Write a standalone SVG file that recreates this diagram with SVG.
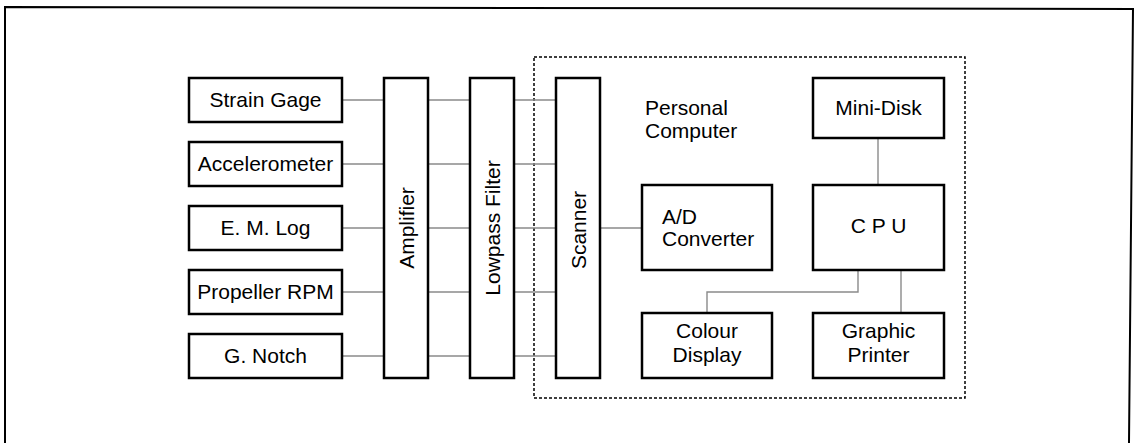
<svg xmlns="http://www.w3.org/2000/svg" width="1140" height="443" viewBox="0 0 1140 443">
<style>
.box{fill:#fff;stroke:#000;stroke-width:2.5}
.t{font-family:"Liberation Sans",Arial,sans-serif;font-size:21px;fill:#000}
.c{text-anchor:middle}
.v{text-anchor:middle;dominant-baseline:central}
.ln{fill:none;stroke:#8a8a8a;stroke-width:1.4}
.frame{fill:none;stroke:#000;stroke-width:2}
.pc{fill:none;stroke:#000;stroke-width:1.5;stroke-dasharray:3 2}
</style>
<rect width="1140" height="443" fill="#fff"/>
<path class="frame" d="M5,443 L5,7 L1133,9 L1129,443"/>
<g id="personal-computer">
<rect class="pc" x="534" y="57" width="431" height="341"/>
<text class="t" x="645" y="115">Personal</text>
<text class="t" x="645" y="138">Computer</text>
</g>
<g id="connectors">
<path class="ln" d="M342,100H384M428,100H470M514,100H556"/>
<path class="ln" d="M342,164H384M428,164H470M514,164H556"/>
<path class="ln" d="M342,228H384M428,228H470M514,228H556"/>
<path class="ln" d="M342,292H384M428,292H470M514,292H556"/>
<path class="ln" d="M342,356H384M428,356H470M514,356H556"/>
<path class="ln" d="M600,228H642"/>
<path class="ln" d="M878,138V185"/>
<path class="ln" d="M858,270V292H707V313"/>
<path class="ln" d="M901,270V313"/>
</g>
<g id="strain-gage"><rect class="box" x="189" y="78" width="153" height="44"/><text class="t c" x="265.5" y="107">Strain Gage</text></g>
<g id="accelerometer"><rect class="box" x="189" y="142" width="153" height="44"/><text class="t c" x="265.5" y="171">Accelerometer</text></g>
<g id="em-log"><rect class="box" x="189" y="206" width="153" height="44"/><text class="t c" x="265.5" y="235">E. M. Log</text></g>
<g id="propeller-rpm"><rect class="box" x="189" y="270" width="153" height="44"/><text class="t c" x="265.5" y="299">Propeller RPM</text></g>
<g id="g-notch"><rect class="box" x="189" y="334" width="153" height="44"/><text class="t c" x="265.5" y="363">G. Notch</text></g>
<g id="amplifier"><rect class="box" x="384" y="78" width="44" height="300"/><text class="t v" transform="translate(406,228) rotate(-90)">Amplifier</text></g>
<g id="lowpass-filter"><rect class="box" x="470" y="78" width="44" height="300"/><text class="t v" transform="translate(492,228) rotate(-90)">Lowpass Filter</text></g>
<g id="scanner"><rect class="box" x="556" y="78" width="44" height="300"/><text class="t v" transform="translate(578,230) rotate(-90)">Scanner</text></g>
<g id="ad-converter"><rect class="box" x="642" y="185" width="130" height="85"/><text class="t" x="662" y="224">A/D</text><text class="t" x="662" y="246">Converter</text></g>
<g id="mini-disk"><rect class="box" x="813" y="78" width="131" height="60"/><text class="t c" x="878.5" y="115">Mini-Disk</text></g>
<g id="cpu"><rect class="box" x="813" y="185" width="131" height="85"/><text class="t c" x="878.5" y="233">C P U</text></g>
<g id="colour-display"><rect class="box" x="642" y="313" width="130" height="65"/><text class="t c" x="707" y="338">Colour</text><text class="t c" x="707" y="362">Display</text></g>
<g id="graphic-printer"><rect class="box" x="813" y="313" width="131" height="65"/><text class="t c" x="878.5" y="338">Graphic</text><text class="t c" x="878.5" y="362">Printer</text></g>
</svg>
